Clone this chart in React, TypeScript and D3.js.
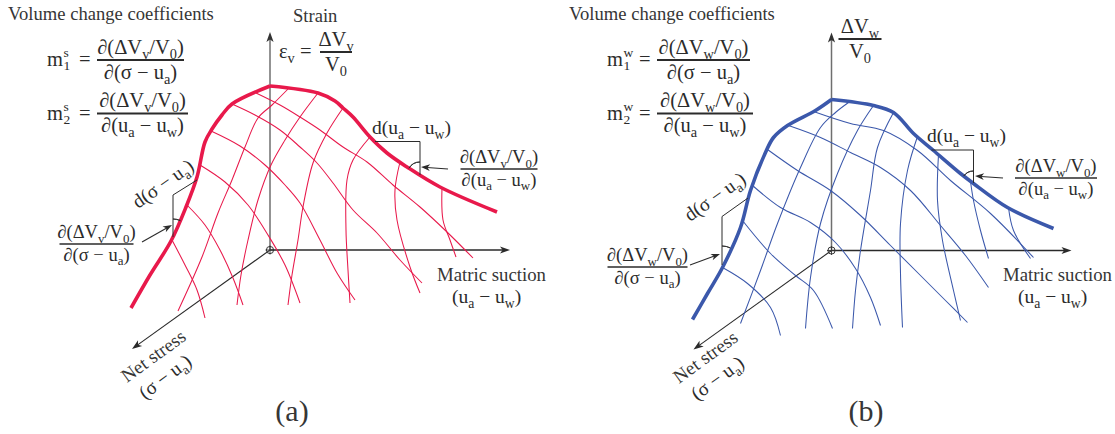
import React from 'react';
import * as d3 from 'd3';

type P = [number, number];

// ---- Panel (a): volumetric strain surface (coordinates relative to the axis origin, y up)
const strainEdgeAlongStress: P[] = [[0, 164], [-38, 146], [-48, 135], [-58, 121], [-65, 108], [-73, 73], [-84, 43], [-99, 9], [-120, -25], [-139, -58]];
const strainEdgeAlongSuction: P[] = [[0, 164], [48, 157], [65, 149], [73, 142], [83, 133], [100, 113], [117, 97], [137, 83], [170, 63], [227, 38]];
const strainConstSuction: P[][] = [
  [[18, 161], [2, 145], [-12, 132], [-25, 103], [-38, 70], [-52, 37], [-68, -7], [-92, -61]],
  [[48, 157], [30, 133], [15, 110], [1, 85], [-12, 50], [-22, 10], [-29, -25], [-33, -55]],
  [[73, 142], [57, 117], [43, 87], [33, 43], [28, 10], [22, -25], [18, -55]],
  [[100, 113], [83, 90], [77, 70], [76, 20], [78, -20], [80, -53]],
  [[130, 88], [125, 60], [127, 30], [140, -17], [150, -43]],
  [[172, 62], [173, 30], [180, 10], [186, -7]],
];
const strainConstStress: P[][] = [
  [[-14, 157], [10, 145], [30, 133], [50, 120], [73, 103], [97, 88], [123, 65], [150, 43], [177, 18], [203, -8]],
  [[-38, 146], [-15, 135], [10, 120], [30, 103], [47, 87], [63, 67], [83, 40], [107, 17], [130, -10], [152, -33]],
  [[-59, 119], [-30, 104], [-5, 85], [15, 65], [30, 47], [50, 10], [67, -23], [85, -50]],
  [[-70, 85], [-45, 68], [-22, 45], [-2, 15], [15, -15], [30, -53]],
  [[-83, 45], [-65, 25], [-50, 0], [-37, -28], [-27, -55]],
  [[-98, 10], [-85, -15], [-73, -40], [-65, -68]],
];

// ---- Panel (b): water volume surface
const waterEdgeAlongStress: P[] = [[0, 151], [-16, 140], [-44, 125], [-58, 113], [-66, 98], [-81, 60], [-91, 23], [-109, -17], [-124, -43], [-139, -69]];
const waterEdgeAlongSuction: P[] = [[0, 151], [42, 145], [62, 138], [82, 117], [102, 100], [129, 77], [142, 67], [176, 43], [222, 22]];
const waterConstSuction: P[][] = [
  [[17, 148], [4, 138], [-11, 123], [-31, 83], [-54, 27], [-71, -20], [-91, -73]],
  [[42, 145], [26, 120], [6, 77], [-11, 27], [-21, -27], [-26, -78]],
  [[62, 138], [46, 103], [39, 60], [29, 0], [24, -40], [21, -78]],
  [[86, 114], [76, 80], [69, 27], [69, -23], [71, -77]],
  [[107, 96], [106, 50], [111, 10], [122, -40], [129, -70]],
  [[139, 69], [142, 50], [149, 20], [157, -8]],
  [[177, 43], [182, 20], [199, -8]],
];
const waterConstStress: P[][] = [
  [[-18, 139], [19, 127], [52, 120], [86, 100], [119, 70], [159, 37], [202, -7]],
  [[-43, 125], [-11, 113], [19, 98], [49, 83], [79, 60], [109, 25], [134, -5], [157, -37]],
  [[-64, 101], [-34, 80], [-1, 60], [29, 35], [59, 5], [89, -25], [114, -50], [136, -72]],
  [[-79, 65], [-51, 43], [-21, 28], [4, 8], [24, -18], [39, -47], [49, -75]],
  [[-89, 30], [-61, -3], [-36, -25], [-18, -40], [1, -78]],
  [[-109, -17], [-84, -33], [-61, -57], [-51, -85]],
];

const FONT = '"Liberation Serif", "Times New Roman", serif';
const INK = '#2b2b2b';
const LABEL = '#363636';
const RED = '#e8194b';
const BLUE = '#3b58ab';

type Seg = { t: string; k: 'n' | 'sub' | 'sup' };
function parseMath(s: string): Seg[] {
  const segs: Seg[] = [];
  let buf = '';
  for (let i = 0; i < s.length; i++) {
    const c = s[i];
    if ((c === '_' || c === '^') && i + 1 < s.length) {
      if (buf) { segs.push({ t: buf, k: 'n' }); buf = ''; }
      segs.push({ t: s[i + 1], k: c === '_' ? 'sub' : 'sup' });
      i++;
    } else buf += c;
  }
  if (buf) segs.push({ t: buf, k: 'n' });
  return segs;
}

function MathLabel({ x, y, s, size, anchor = 'start', transform }: { x: number; y: number; s: string; size: number; anchor?: string; transform?: string }) {
  const segs = parseMath(s);
  let shift = 0;
  return (
    <text x={x} y={y} fontSize={size} textAnchor={anchor} transform={transform} fontFamily={FONT} fill={INK} style={{ whiteSpace: 'pre' }}>
      {segs.map((g, i) => {
        const target = g.k === 'sub' ? size * 0.24 : g.k === 'sup' ? -size * 0.38 : 0;
        const dy = target - shift;
        shift = target;
        return (
          <tspan key={i} dy={dy} fontSize={g.k === 'n' ? size : size * 0.7}>{g.t}</tspan>
        );
      })}
    </text>
  );
}

function Frac({ cx, bar, num, den, size, w }: { cx: number; bar: number; num: string; den: string; size: number; w: number }) {
  return (
    <g>
      <MathLabel x={cx} y={bar - size * 0.3} s={num} size={size} anchor="middle" />
      <line x1={cx - w / 2} x2={cx + w / 2} y1={bar} y2={bar} stroke={INK} strokeWidth={size > 19 ? 2 : 1.7} />
      <MathLabel x={cx} y={bar + size * 0.92} s={den} size={size} anchor="middle" />
    </g>
  );
}

function arrowHead(tx: number, ty: number, ang: number, len = 10, half = 3.6, notch = 2.6) {
  const ux = Math.cos(ang), uy = Math.sin(ang);
  const px = -uy, py = ux;
  const bx = tx - ux * len, by = ty - uy * len;
  const nx = tx - ux * (len - notch), ny = ty - uy * (len - notch);
  return `M${tx},${ty}L${bx + px * half},${by + py * half}L${nx},${ny}L${bx - px * half},${by - py * half}Z`;
}

function Arrow({ x1, y1, x2, y2, color = INK, width = 1, len = 10, half = 3.6 }: any) {
  const ang = Math.atan2(y2 - y1, x2 - x1);
  const ex = x2 - Math.cos(ang) * (len - 3), ey = y2 - Math.sin(ang) * (len - 3);
  return (
    <g>
      <line x1={x1} y1={y1} x2={ex} y2={ey} stroke={color} strokeWidth={width} />
      <path d={arrowHead(x2, y2, ang, len, half)} fill={color} />
    </g>
  );
}

function Coefficient({ x, bar, sup, sub, num, den, w }: { x: number; bar: number; sup: string; sub: string; num: string; den: string; w: number }) {
  const base = bar + 6;
  return (
    <g>
      <text x={x} y={base} fontSize={20.5} fontFamily={FONT} fill={INK}>m</text>
      <text x={x + 16.5} y={base - 9} fontSize={13.5} fontFamily={FONT} fill={INK}>{sup}</text>
      <text x={x + 16.5} y={base + 4} fontSize={13.5} fontFamily={FONT} fill={INK}>{sub}</text>
      <text x={x + 32} y={base} fontSize={20.5} fontFamily={FONT} fill={INK}>=</text>
      <Frac cx={x + 50 + w / 2} bar={bar} num={num} den={den} size={20.5} w={w} />
    </g>
  );
}

function Surface({ ox, oy, color, edgeStress, edgeSuction, constStress, constSuction }: {
  ox: number; oy: number; color: string; edgeStress: P[]; edgeSuction: P[]; constStress: P[][]; constSuction: P[][];
}) {
  const x = d3.scaleLinear().domain([-150, 250]).range([ox - 150, ox + 250]);
  const y = d3.scaleLinear().domain([-100, 220]).range([oy + 100, oy - 220]);
  const line = d3.line<P>().x((d) => x(d[0])).y((d) => y(d[1])).curve(d3.curveCatmullRom.alpha(0.5));
  const stressTip: P = [-138, -99];
  return (
    <g>
      {/* axes */}
      <line x1={x(0)} y1={y(0)} x2={x(0)} y2={y(212)} stroke="#6f6f6f" strokeWidth={1.5} />
      <path d={arrowHead(x(0), y(218), -Math.PI / 2, 10, 3.6)} fill="#333" />
      <Arrow x1={x(0)} y1={y(0)} x2={x(240)} y2={y(0)} color="#2a2a2a" width={1.4} />
      <Arrow x1={x(0)} y1={y(0)} x2={x(stressTip[0])} y2={y(stressTip[1])} color="#2a2a2a" width={1.1} />
      {/* mesh */}
      <g fill="none" stroke={color} strokeWidth={1.05}>
        {constStress.map((c, i) => <path key={'s' + i} d={line(c) || ''} />)}
        {constSuction.map((c, i) => <path key={'u' + i} d={line(c) || ''} />)}
      </g>
      {/* boundary curves */}
      <g fill="none" stroke={color} strokeWidth={3.6} strokeLinejoin="round" strokeLinecap="butt">
        <path d={line(edgeStress) || ''} />
        <path d={line(edgeSuction) || ''} />
      </g>
      {/* origin marker */}
      <circle cx={x(0)} cy={y(0)} r={3.6} fill="none" stroke="#333" strokeWidth={1} />
      <line x1={x(0) - 4.5} x2={x(0) + 4.5} y1={y(0)} y2={y(0)} stroke="#333" strokeWidth={0.9} />
      <line x1={x(0)} x2={x(0)} y1={y(0) - 4.5} y2={y(0) + 4.5} stroke="#333" strokeWidth={0.9} />
    </g>
  );
}

function AngleArc({ cx, cy, r, a0, a1 }: { cx: number; cy: number; r: number; a0: number; a1: number }) {
  const arc = d3.arc()({ innerRadius: r, outerRadius: r, startAngle: a0, endAngle: a1 } as any) || '';
  return <path d={arc} transform={`translate(${cx},${cy})`} fill="none" stroke={INK} strokeWidth={0.9} />;
}

export default function App() {
  return (
    <svg width={1115} height={434} style={{ position: 'absolute', left: 0, top: 0, background: '#fff' }}>
      <rect width={1115} height={434} fill="#fff" />
      {/* ---------- (a) ---------- */}
      <text x={8} y={20} fontSize={18.6} fontFamily={FONT} fill={LABEL}>Volume change coefficients</text>
      <Coefficient x={47} bar={60} sup="s" sub="1" num="∂(ΔV_v/V_0)" den="∂(σ − u_a)" w={87} />
      <Coefficient x={47} bar={113.5} sup="s" sub="2" num="∂(ΔV_v/V_0)" den="∂(u_a − u_w)" w={91} />

      <text x={293} y={22} fontSize={18.6} fontFamily={FONT} fill={LABEL}>Strain</text>
      <MathLabel x={279} y={58} s="ε_v =" size={20.5} />
      <Frac cx={336} bar={52} num="ΔV_v" den="V_0" size={20.5} w={32} />

      <Surface ox={270} oy={250} color={RED} edgeStress={strainEdgeAlongStress} edgeSuction={strainEdgeAlongSuction}
        constStress={strainConstStress} constSuction={strainConstSuction} />

      {/* slope along net stress */}
      <polyline points="197,180 173,195 173,237" fill="none" stroke={INK} strokeWidth={1} />
      <AngleArc cx={173} cy={237} r={18} a0={0} a1={0.42} />
      <Arrow x1={142} y1={242} x2={172} y2={225} width={1.1} len={9} half={3.3} />
      <MathLabel x={0} y={0} s="d(σ − u_a)" size={19.5} transform="translate(138,209) rotate(-35)" />
      <Frac cx={96.5} bar={244} num="∂(ΔV_v/V_0)" den="∂(σ − u_a)" size={18.5} w={74} />

      {/* slope along suction */}
      <polyline points="375,141.5 420,141.5 420,175" fill="none" stroke={INK} strokeWidth={1} />
      <AngleArc cx={420} cy={175} r={13} a0={-1.02} a1={0} />
      <Arrow x1={448} y1={169} x2={421} y2={167} width={1.1} len={9} half={3.3} />
      <MathLabel x={372} y={134} s="d(u_a − u_w)" size={19.5} />
      <Frac cx={499} bar={169} num="∂(ΔV_v/V_0)" den="∂(u_a − u_w)" size={18.5} w={77} />

      <text x={437} y={281} fontSize={18.8} fontFamily={FONT} fill={LABEL}>Matric suction</text>
      <MathLabel x={452} y={303} s="(u_a − u_w)" size={19.5} />
      <text x={0} y={0} fontSize={19} fontFamily={FONT} fill={LABEL} transform="translate(127,383) rotate(-36)">Net stress</text>
      <MathLabel x={0} y={0} s="(σ − u_a)" size={19.5} transform="translate(145,400) rotate(-37)" />

      <text x={292} y={421} fontSize={30} fontFamily={FONT} fill={LABEL} textAnchor="middle">(a)</text>

      {/* ---------- (b) ---------- */}
      <text x={569} y={20} fontSize={18.6} fontFamily={FONT} fill={LABEL}>Volume change coefficients</text>
      <Coefficient x={607} bar={60} sup="w" sub="1" num="∂(ΔV_w/V_0)" den="∂(σ − u_a)" w={93} />
      <Coefficient x={607} bar={113.5} sup="w" sub="2" num="∂(ΔV_w/V_0)" den="∂(u_a − u_w)" w={96} />

      <Frac cx={860} bar={39} num="ΔV_w" den="V_0" size={20.5} w={43} />

      <Surface ox={831.5} oy={250.5} color={BLUE} edgeStress={waterEdgeAlongStress} edgeSuction={waterEdgeAlongSuction}
        constStress={waterConstStress} constSuction={waterConstSuction} />

      <polyline points="748,198 722,216.5 722,265" fill="none" stroke={INK} strokeWidth={1} />
      <AngleArc cx={722} cy={265} r={19} a0={0} a1={0.45} />
      <Arrow x1={690} y1={265} x2={720} y2={254} width={1.1} len={9} half={3.3} />
      <MathLabel x={0} y={0} s="d(σ − u_a)" size={19.5} transform="translate(690,222) rotate(-35)" />
      <Frac cx={647.5} bar={267} num="∂(ΔV_w/V_0)" den="∂(σ − u_a)" size={18.5} w={80} />

      <polyline points="931.5,150 973.5,150 973.5,183" fill="none" stroke={INK} strokeWidth={1} />
      <AngleArc cx={973.5} cy={183} r={12} a0={-0.95} a1={0} />
      <Arrow x1={1003} y1={178} x2={975} y2={176} width={1.1} len={9} half={3.3} />
      <MathLabel x={927} y={142} s="d(u_a − u_w)" size={19.5} />
      <Frac cx={1056} bar={178} num="∂(ΔV_w/V_0)" den="∂(u_a − u_w)" size={18.5} w={82} />

      <text x={1003} y={281} fontSize={18.8} fontFamily={FONT} fill={LABEL}>Matric suction</text>
      <MathLabel x={1018} y={303} s="(u_a − u_w)" size={19.5} />
      <text x={0} y={0} fontSize={19} fontFamily={FONT} fill={LABEL} transform="translate(679,384) rotate(-36)">Net stress</text>
      <MathLabel x={0} y={0} s="(σ − u_a)" size={19.5} transform="translate(697,401) rotate(-36)" />

      <text x={866} y={421} fontSize={30} fontFamily={FONT} fill={LABEL} textAnchor="middle">(b)</text>
    </svg>
  );
}
